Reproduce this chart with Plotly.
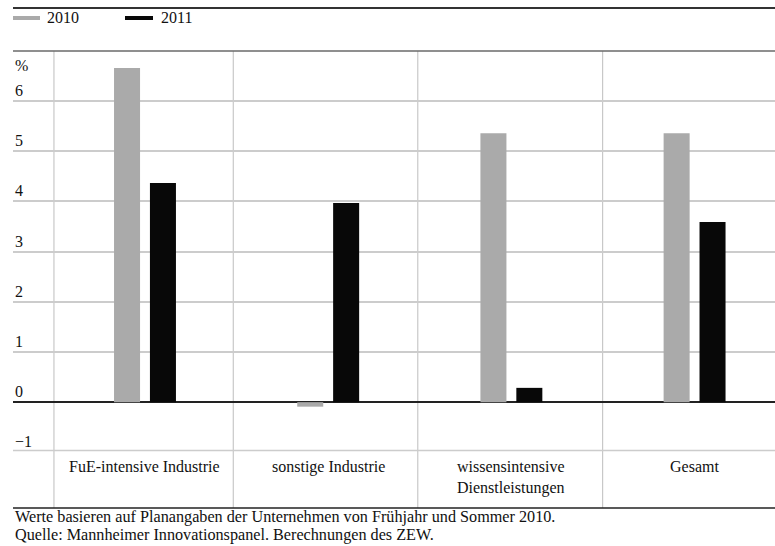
import plotly.graph_objects as go

categories = ["FuE-intensive Industrie", "sonstige Industrie",
              "wissensintensive<br>Dienstleistungen", "Gesamt"]
series_names = ["2010", "2011"]
values_2010 = [6.66, -0.09, 5.36, 5.36]
values_2011 = [4.37, 3.97, 0.285, 3.59]
y_tick_values = [6, 5, 4, 3, 2, 1, 0, -1]
y_tick_labels = ["6", "5", "4", "3", "2", "1", "0", "\u22121"]
separators = [-0.497, 0.482, 1.489, 2.498]
footer_lines = ["Werte basieren auf Planangaben der Unternehmen von Frühjahr und Sommer 2010.",
                "Quelle: Mannheimer Innovationspanel. Berechnungen des ZEW."]

W, H = 775, 546
ML, MR, MT, MB = 13, 0, 51, 38
PH = H - MT - MB
PW = W - ML - MR
FONT = "Liberation Serif"
FS = 16
GRAY = "#aaaaaa"
BLACK = "#080808"


def py2paper(py):
    return (H - MB - py) / PH


def px2paper(px):
    return (px - ML) / PW


xs = list(range(len(categories)))
fig = go.Figure()
fig.add_trace(go.Bar(x=xs, y=values_2010, name=series_names[0], marker_color=GRAY,
                     marker_line_width=0, width=0.142, offset=-0.169))
fig.add_trace(go.Bar(x=xs, y=values_2011, name=series_names[1], marker_color=BLACK,
                     marker_line_width=0, width=0.142, offset=0.027))

shapes = []
for s in separators:
    shapes.append(dict(type="line", xref="x", yref="paper", x0=s, x1=s, y0=0, y1=1,
                       line=dict(color="#c8c8c8", width=1.2), layer="below"))
shapes.append(dict(type="line", xref="paper", yref="y", x0=0, x1=1, y0=-0.965, y1=-0.965,
                   line=dict(color="#cccccc", width=1.5), layer="below"))
shapes.append(dict(type="line", xref="paper", yref="paper", x0=0, x1=1, y0=1, y1=1,
                   line=dict(color="#6a6a6a", width=1.5)))
shapes.append(dict(type="line", xref="paper", yref="paper", x0=0, x1=1, y0=0, y1=0,
                   line=dict(color="#222222", width=1.5)))
shapes.append(dict(type="line", xref="paper", yref="paper", x0=0, x1=1,
                   y0=py2paper(8), y1=py2paper(8),
                   line=dict(color="#333333", width=2)))
for (x0, x1, col) in [(13, 40, GRAY), (125, 153, BLACK)]:
    shapes.append(dict(type="rect", xref="paper", yref="paper",
                       x0=px2paper(x0), x1=px2paper(x1),
                       y0=py2paper(20), y1=py2paper(16),
                       fillcolor=col, line=dict(width=0)))

annotations = []
for (x, t) in [(45, series_names[0]), (159, series_names[1])]:
    annotations.append(dict(text=t, xref="paper", yref="paper", x=px2paper(x), y=py2paper(18),
                            xanchor="left", yanchor="middle", showarrow=False,
                            font=dict(family=FONT, size=FS, color="#111")))
for v, lab in zip(y_tick_values, y_tick_labels):
    annotations.append(dict(text=lab, xref="paper", yref="y", x=px2paper(13), y=v,
                            xanchor="left", yanchor="bottom", showarrow=False, yshift=0,
                            font=dict(family=FONT, size=FS, color="#111")))
annotations.append(dict(text="%", xref="paper", yref="y", x=px2paper(13), y=6.5,
                        xanchor="left", yanchor="bottom", showarrow=False, yshift=0,
                        font=dict(family=FONT, size=FS, color="#111")))
for i, c in enumerate(categories):
    annotations.append(dict(text=c, xref="x", yref="y", x=i, y=-0.965,
                            xanchor="center", yanchor="top", showarrow=False, yshift=-5,
                            font=dict(family=FONT, size=FS, color="#111")))
for k, t in enumerate(footer_lines):
    annotations.append(dict(text=t, xref="paper", yref="paper", x=0, y=py2paper(517 + 18 * k),
                            xanchor="left", yanchor="middle", showarrow=False,
                            font=dict(family=FONT, size=16.2, color="#111")))

fig.update_layout(
    width=W, height=H,
    margin=dict(l=ML, r=MR, t=MT, b=MB, pad=0),
    paper_bgcolor="white", plot_bgcolor="white",
    barmode="overlay", showlegend=False,
    xaxis=dict(range=[-0.7205, 3.439], visible=False, fixedrange=True),
    yaxis=dict(range=[-2.11, 7.0], tickvals=[0, 1, 2, 3, 4, 5, 6], showticklabels=False,
               showgrid=True, gridcolor="#cccccc", gridwidth=1.5,
               zeroline=True, zerolinecolor="#222222", zerolinewidth=1.5,
               showline=False, fixedrange=True),
    shapes=shapes, annotations=annotations,
)

fig.write_html("out.html", config={"displayModeBar": False},
               post_script="document.body.style.margin='0';document.body.style.overflow='hidden';")
